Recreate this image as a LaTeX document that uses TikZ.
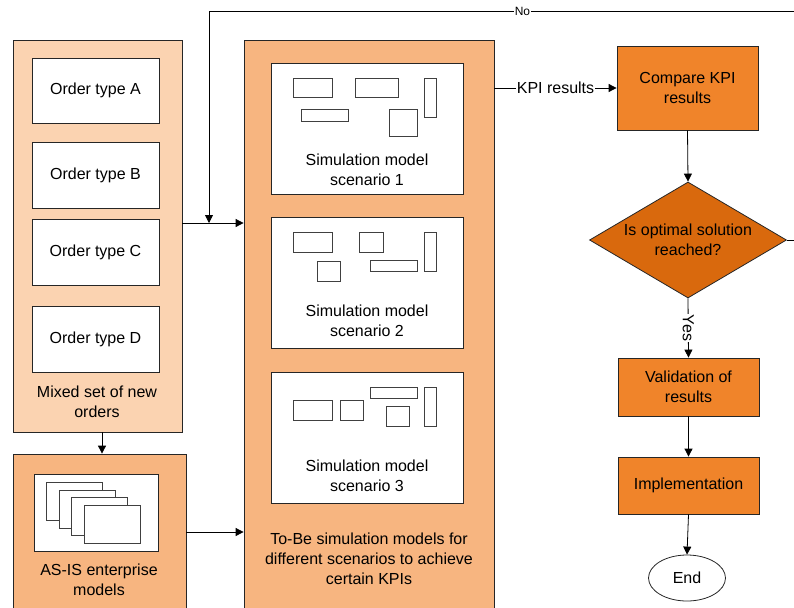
\documentclass[tikz,border=0pt]{standalone}
\usepackage{fontspec}
\setmainfont{Liberation Sans}
\usetikzlibrary{arrows.meta,shapes.geometric}
\definecolor{lightpeach}{HTML}{FBD3B1}
\definecolor{peach}{HTML}{F7B580}
\definecolor{procorange}{HTML}{F0842A}
\definecolor{decorange}{HTML}{D9690D}
\begin{document}
\begin{tikzpicture}[x=1pt,y=-1pt,
  every node/.style={font=\fontsize{16}{20}\selectfont, align=center, inner sep=0pt},
  panel/.style={draw=black!85, line width=0.8pt},
  wbox/.style={draw=black!85, fill=white, line width=0.8pt},
  mini/.style={draw=black!75, fill=white, line width=0.7pt},
  proc/.style={draw=black!85, fill=procorange, line width=0.8pt, minimum width=141pt},
  arr/.style={line width=0.8pt, -{Triangle[length=8pt,width=8pt]}},
  lbl/.style={fill=white, inner sep=1pt}]
\useasboundingbox (0,0) rectangle (794,607);
\clip (0,0) rectangle (794,607);

% left panel
\node[panel, fill=lightpeach, minimum width=169pt, minimum height=392pt] (left) at (97.5,236) {};
\node[wbox, minimum width=127pt, minimum height=65pt] (oa) at (95.5,90.5) {Order type A};
\node[wbox, minimum width=127pt, minimum height=66pt] (ob) at (95.5,175) {Order type B};
\node[wbox, minimum width=127pt, minimum height=66pt] (oc) at (95.5,252) {Order type C};
\node[wbox, minimum width=127pt, minimum height=66pt] (od) at (95.5,339) {Order type D};
\node (mixed) at (97,402) {Mixed set of new\\orders};

% AS-IS panel
\node[panel, fill=peach, minimum width=173pt, minimum height=166pt] (asis) at (99.5,537) {};
\node[wbox, minimum width=124pt, minimum height=77pt] (asisin) at (96,512.5) {};
\node[mini, anchor=north west, minimum width=56pt, minimum height=38pt] (p1) at (46,482) {};
\node[mini, anchor=north west, minimum width=56pt, minimum height=38pt] (p2) at (58.7,489.7) {};
\node[mini, anchor=north west, minimum width=56pt, minimum height=38pt] (p3) at (71.3,497.3) {};
\node[mini, anchor=north west, minimum width=56pt, minimum height=38pt] (p4) at (84,505) {};
\node (asistxt) at (99,580) {AS-IS enterprise\\models};

% middle panel
\node[panel, fill=peach, minimum width=250pt, minimum height=580pt] (mid) at (369,330) {};
\node[wbox, minimum width=192pt, minimum height=131pt] (s1) at (367,128.5) {};
\node[wbox, minimum width=192pt, minimum height=131pt] (s2) at (367,282.5) {};
\node[wbox, minimum width=192pt, minimum height=131pt] (s3) at (367,437.5) {};
\node (s1t) at (367,170) {Simulation model\\scenario 1};
\node (s2t) at (367,321) {Simulation model\\scenario 2};
\node (s3t) at (367,476) {Simulation model\\scenario 3};
\node (midt) at (369,559) {To-Be simulation models for\\different scenarios to achieve\\certain KPIs};

% mini rectangles scenario 1
\draw[mini] (293.7,78.7) rectangle (332.3,97.3);
\draw[mini] (355.7,78.7) rectangle (398.3,97.3);
\draw[mini] (424.7,78.7) rectangle (436.7,117.3);
\draw[mini] (301.3,109.3) rectangle (348.3,121);
\draw[mini] (389.7,109.3) rectangle (417.3,136.3);
% scenario 2
\draw[mini] (293.7,232.7) rectangle (332.7,252.7);
\draw[mini] (359.3,232.7) rectangle (383,252.7);
\draw[mini] (424.7,232.7) rectangle (436.7,271.7);
\draw[mini] (317,261.7) rectangle (340.3,281.3);
\draw[mini] (370.7,260) rectangle (417.3,271.3);
% scenario 3
\draw[mini] (293.7,400.3) rectangle (332.7,420);
\draw[mini] (340.3,400.3) rectangle (363,420);
\draw[mini] (370.7,387.3) rectangle (417.3,398.7);
\draw[mini] (386.3,406) rectangle (409,426);
\draw[mini] (424.7,387.3) rectangle (436.7,426);

% right flow
\node[proc, minimum height=84pt] (cmp) at (687.5,88) {Compare KPI\\results};
\node[diamond, draw=black!85, fill=decorange, line width=0.8pt, minimum width=197pt, minimum height=116pt, aspect=1.7] (dia) at (688,240) {Is optimal solution\\reached?};
\node[proc, minimum height=58pt] (val) at (688.5,387) {Validation of\\results};
\node[proc, minimum height=57pt] (impl) at (688.5,485.5) {Implementation};
\node[ellipse, draw=black!85, fill=white, line width=0.8pt, minimum width=77pt, minimum height=46pt] (end) at (687,578) {End};

% connectors
\coordinate (j) at (209,223);
\draw[arr] ([yshift=13pt]left.east) -- ([yshift=107pt]mid.west);
\draw[arr] ([xshift=4.5pt]left.south) -- ([xshift=2.5pt]asis.north);
\draw[arr] ([yshift=5pt]asis.east) -- ([yshift=-202pt]mid.west);
\draw[arr] (cmp.west -| mid.east) -- node[lbl]{KPI results} (cmp.west);
\draw[arr] (cmp.south) -- (dia.north);
\draw[arr] (dia.south) -- node[lbl, rotate=-90]{Yes} (val.north);
\draw[arr] (val.south) -- (impl.north);
\draw[arr] (impl.south) -- (end.north);
\draw[arr] (dia.east) -- (805,240) -- (805,11) -- node[lbl, pos=0.474, font=\fontsize{12}{14}\selectfont]{No} (j |- 0,11) -- (j);
\end{tikzpicture}
\end{document}
